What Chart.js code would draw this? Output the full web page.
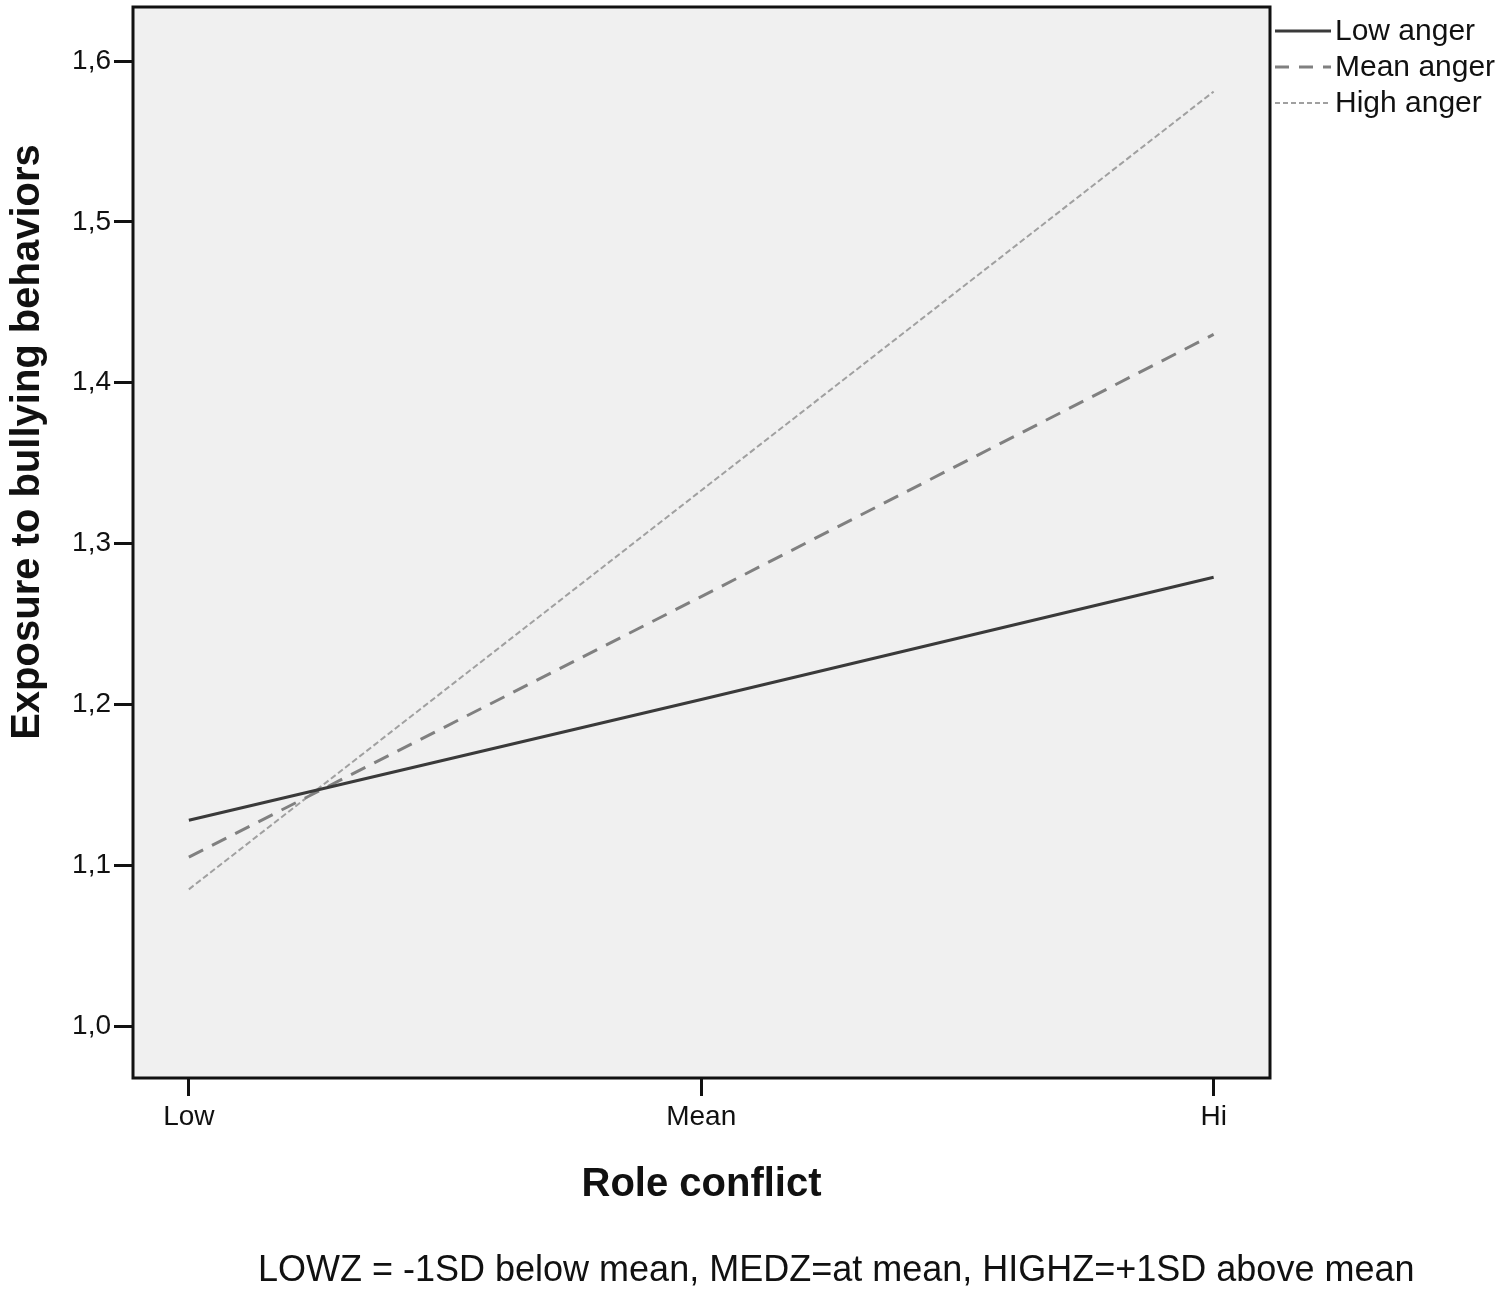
<!DOCTYPE html>
<html>
<head>
<meta charset="utf-8">
<script src="https://cdn.jsdelivr.net/npm/chart.js@4"></script>
<style>
  body { margin: 0; background: #fff; }
  #wrap { position: relative; width: 1500px; height: 1294px; }
  #note {
    position: absolute; left: 258px; top: 1249px;
    font: 36px "Liberation Sans", Arial, sans-serif; color: #111;
    white-space: nowrap; line-height: 40px;
  }
</style>
</head>
<body>
<div id="wrap">
  <canvas id="plot" width="1500" height="1294"></canvas>
  <div id="note">LOWZ = -1SD below mean, MEDZ=at mean, HIGHZ=+1SD above mean</div>
</div>
<script>
const categories = ['Low', 'Mean', 'Hi'];
const lowAnger = [1.128, 1.203, 1.279];
const meanAnger = [1.105, 1.267, 1.430];
const highAnger = [1.085, 1.333, 1.581];
const yTicks = [1.0, 1.1, 1.2, 1.3, 1.4, 1.5, 1.6];

const font = '"Liberation Sans", Arial, sans-serif';

function points(arr) {
  return arr.map((v, i) => ({ x: i, y: v }));
}

const series = [
  { label: 'Low anger', data: lowAnger, color: '#3a3a3a', width: 3, dash: [] },
  { label: 'Mean anger', data: meanAnger, color: '#808080', width: 3, dash: [16, 10] },
  { label: 'High anger', data: highAnger, color: '#a0a0a0', width: 2, dash: [6, 3] }
];

// grey plot background + box, y title and legend
const frame = {
  id: 'frame',
  beforeDatasetsDraw(chart) {
    const { ctx, chartArea: a } = chart;
    ctx.save();
    ctx.fillStyle = '#f0f0f0';
    ctx.fillRect(a.left, a.top, a.right - a.left, a.bottom - a.top);
    ctx.restore();
  },
  afterDraw(chart) {
    const { ctx, chartArea: a } = chart;
    ctx.save();
    ctx.strokeStyle = '#111';
    ctx.lineWidth = 3;
    ctx.strokeRect(a.left, a.top, a.right - a.left, a.bottom - a.top);

    // y title sits above the plot's centre in the original
    ctx.translate(28, 442);
    ctx.rotate(-Math.PI / 2);
    ctx.fillStyle = '#111';
    ctx.font = 'bold 40px ' + font;
    ctx.textAlign = 'center';
    ctx.textBaseline = 'middle';
    ctx.fillText('Exposure to bullying behaviors', 0, 0);
    ctx.restore();

    // legend
    ctx.save();
    ctx.font = '30px ' + font;
    ctx.textBaseline = 'middle';
    series.forEach((s, i) => {
      const y = 31 + i * 36;
      ctx.strokeStyle = s.color;
      ctx.lineWidth = s.width;
      ctx.setLineDash(i === 0 ? [] : (i === 1 ? [14, 10] : [5, 3]));
      ctx.beginPath();
      ctx.moveTo(1275, y);
      ctx.lineTo(1331, y);
      ctx.stroke();
      ctx.fillStyle = '#111';
      ctx.fillText(s.label, 1335, y + 1);
    });
    ctx.restore();
  }
};

new Chart(document.getElementById('plot'), {
  type: 'line',
  data: {
    datasets: series.map(s => ({
      label: s.label,
      data: points(s.data),
      borderColor: s.color,
      borderWidth: s.width,
      borderDash: s.dash,
      pointRadius: 0,
      fill: false,
      tension: 0
    }))
  },
  options: {
    responsive: false,
    animation: false,
    layout: { padding: { top: 7, right: 230, left: 0, bottom: 0 } },
    scales: {
      x: {
        type: 'linear',
        min: -0.109,
        max: 2.11,
        afterBuildTicks: s => { s.ticks = categories.map((c, i) => ({ value: i })); },
        afterFit: s => { s.height = 216; s.paddingLeft = 0; s.paddingRight = 0; },
        ticks: {
          callback: v => categories[v],
          font: { family: font, size: 28 },
          color: '#111',
          padding: 4
        },
        grid: { drawOnChartArea: false, drawTicks: true, tickLength: 18, color: '#111', lineWidth: 3 },
        border: { display: false },
        title: {
          display: true,
          text: 'Role conflict',
          font: { family: font, size: 40, weight: 'bold' },
          color: '#111',
          padding: { top: 0, bottom: 85 }
        }
      },
      y: {
        min: 0.9677,
        max: 1.6336,
        afterBuildTicks: s => { s.ticks = yTicks.map(v => ({ value: v })); },
        afterFit: s => { s.width = 133; s.paddingTop = 0; s.paddingBottom = 0; },
        ticks: {
          callback: v => v.toFixed(1).replace('.', ','),
          font: { family: font, size: 28 },
          color: '#111',
          padding: 3
        },
        grid: { drawOnChartArea: false, drawTicks: true, tickLength: 19, color: '#111', lineWidth: 3 },
        border: { display: false }
      }
    },
    plugins: {
      legend: { display: false },
      tooltip: { enabled: false }
    }
  },
  plugins: [frame]
});
</script>
</body>
</html>
